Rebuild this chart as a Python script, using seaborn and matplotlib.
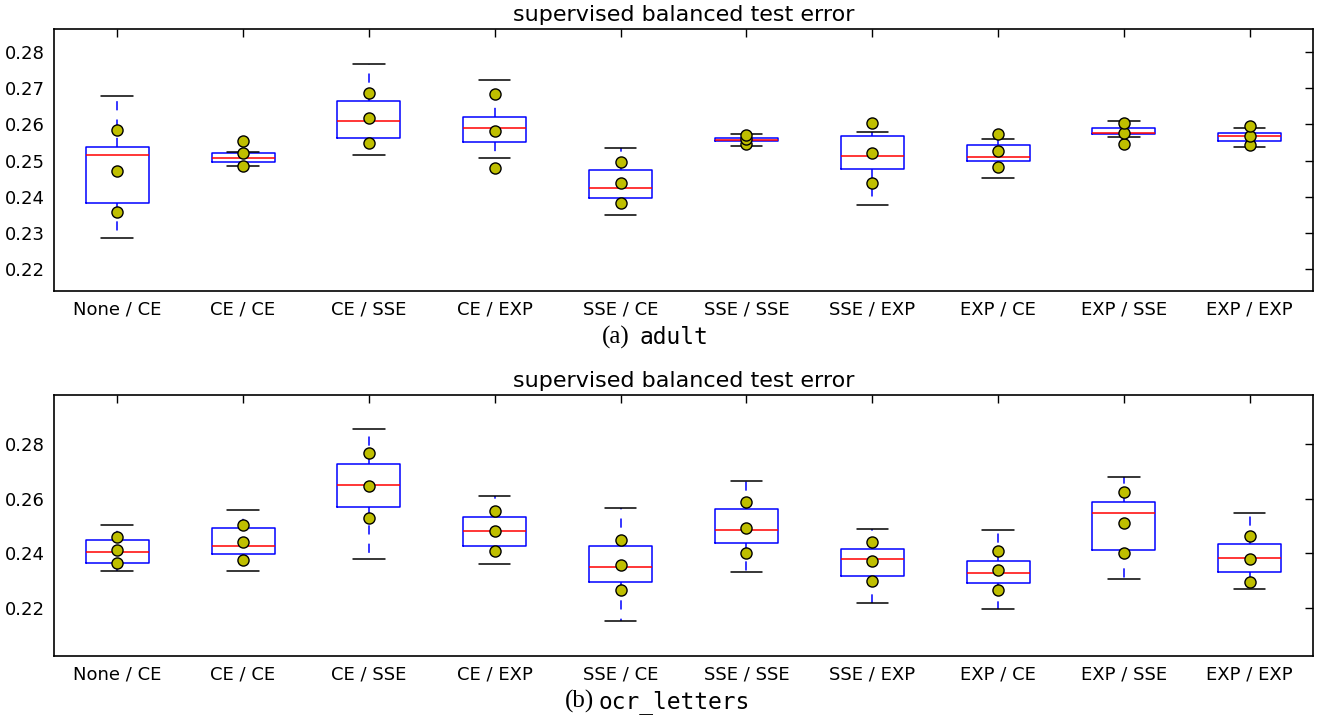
import numpy as np
import pandas as pd
import seaborn as sns
import matplotlib.pyplot as plt

# ==========================================
# DATA
# ==========================================
CONFIGS = ["None / CE", "CE / CE", "CE / SSE", "CE / EXP", "SSE / CE",
           "SSE / SSE", "SSE / EXP", "EXP / CE", "EXP / SSE", "EXP / EXP"]

# adult: box summary (whisker low, q1, median, q3, whisker high)
ADULT_LOW = [0.2287, 0.2485, 0.2515, 0.2508, 0.2351, 0.2541, 0.2378, 0.2451, 0.2564, 0.2538]
ADULT_Q1 = [0.2383, 0.2496, 0.2563, 0.2551, 0.2397, 0.2553, 0.2477, 0.2498, 0.2572, 0.2554]
ADULT_MED = [0.2516, 0.2506, 0.2608, 0.2590, 0.2425, 0.2556, 0.2513, 0.2511, 0.2577, 0.2568]
ADULT_Q3 = [0.2537, 0.2522, 0.2664, 0.2621, 0.2475, 0.2563, 0.2568, 0.2542, 0.2589, 0.2577]
ADULT_HIGH = [0.2677, 0.2524, 0.2765, 0.2722, 0.2535, 0.2572, 0.2578, 0.2560, 0.2610, 0.2590]
# adult: mean and mean +/- std markers
ADULT_MEAN = [0.2470, 0.2520, 0.2618, 0.2582, 0.2439, 0.2559, 0.2520, 0.2527, 0.2576, 0.2568]
ADULT_MEAN_LO = [0.2357, 0.2485, 0.2549, 0.2480, 0.2382, 0.2547, 0.2437, 0.2481, 0.2547, 0.2542]
ADULT_MEAN_HI = [0.2584, 0.2555, 0.2686, 0.2684, 0.2496, 0.2570, 0.2603, 0.2574, 0.2604, 0.2595]

# ocr_letters
OCR_LOW = [0.2334, 0.2334, 0.2380, 0.2359, 0.2150, 0.2331, 0.2218, 0.2196, 0.2306, 0.2267]
OCR_Q1 = [0.2365, 0.2396, 0.2569, 0.2426, 0.2293, 0.2436, 0.2317, 0.2290, 0.2411, 0.2332]
OCR_MED = [0.2405, 0.2427, 0.2650, 0.2481, 0.2349, 0.2485, 0.2380, 0.2326, 0.2548, 0.2382]
OCR_Q3 = [0.2447, 0.2493, 0.2728, 0.2534, 0.2425, 0.2563, 0.2416, 0.2372, 0.2587, 0.2435]
OCR_HIGH = [0.2503, 0.2557, 0.2856, 0.2608, 0.2565, 0.2663, 0.2490, 0.2485, 0.2681, 0.2548]
OCR_MEAN = [0.2411, 0.2441, 0.2647, 0.2481, 0.2358, 0.2493, 0.2370, 0.2337, 0.2512, 0.2380]
OCR_MEAN_LO = [0.2363, 0.2376, 0.2530, 0.2407, 0.2266, 0.2399, 0.2299, 0.2266, 0.2402, 0.2295]
OCR_MEAN_HI = [0.2461, 0.2505, 0.2766, 0.2554, 0.2449, 0.2587, 0.2440, 0.2407, 0.2623, 0.2463]

TITLE = "supervised balanced test error"
OUTPUT_IMAGE = "out.png"


def to_long(cols):
    """Stack per-config columns into a long frame (config, value)."""
    rows = []
    for col in cols:
        for cfg, v in zip(CONFIGS, col):
            rows.append({"config": cfg, "value": v})
    return pd.DataFrame(rows)


def draw_panel(ax, box_df, dot_df, ylim, yticks):
    sns.boxplot(
        data=box_df, x="config", y="value", order=CONFIGS, ax=ax,
        whis=(0, 100), width=0.5, fill=False, linewidth=1.1,
        boxprops=dict(color="blue"),
        medianprops=dict(color="red"),
        whiskerprops=dict(color="blue", linestyle=(0, (6, 6))),
        capprops=dict(color="black"),
    )
    sns.stripplot(
        data=dot_df, x="config", y="value", order=CONFIGS, ax=ax,
        jitter=False, color=(0.75, 0.75, 0.0), edgecolor="black",
        linewidth=1.0, size=8, zorder=4,
    )
    ax.set_xlim(-0.5, len(CONFIGS) - 0.5)
    ax.set_ylim(*ylim)
    ax.set_yticks(yticks)
    ax.set_yticklabels([f"{t:.2f}" for t in yticks])
    ax.set_xlabel("")
    ax.set_ylabel("")
    ax.set_title(TITLE, fontsize=16, pad=6, color="black")
    ax.tick_params(direction="in", top=True, right=True, length=6,
                   width=1, colors="black", labelsize=13, pad=7)
    for sp in ax.spines.values():
        sp.set_color("black")
        sp.set_linewidth(1.2)


sns.set_style("white")
plt.rcParams["font.family"] = ["DejaVu Sans"]
plt.rcParams["text.color"] = "black"

fig = plt.figure(figsize=(13.21, 7.19), dpi=100)
ax_a = fig.add_axes([0.0411, 0.5957, 0.9526, 0.3635])
ax_b = fig.add_axes([0.0411, 0.0876, 0.9526, 0.3630])

adult_box = to_long([ADULT_LOW, ADULT_Q1, ADULT_MED, ADULT_Q3, ADULT_HIGH])
adult_dots = to_long([ADULT_MEAN_LO, ADULT_MEAN, ADULT_MEAN_HI])
ocr_box = to_long([OCR_LOW, OCR_Q1, OCR_MED, OCR_Q3, OCR_HIGH])
ocr_dots = to_long([OCR_MEAN_LO, OCR_MEAN, OCR_MEAN_HI])

draw_panel(ax_a, adult_box, adult_dots, (0.2141, 0.2862),
           [0.22, 0.23, 0.24, 0.25, 0.26, 0.27, 0.28])
draw_panel(ax_b, ocr_box, ocr_dots, (0.2023, 0.2980),
           [0.22, 0.24, 0.26, 0.28])

# sub-captions: serif "(a)" + monospace dataset name
fig.text(0.4768, 0.531, "(a)", ha="right", va="center",
         family="Liberation Serif", fontsize=18, color="black")
fig.text(0.4838, 0.531, "adult", ha="left", va="center",
         family="DejaVu Sans Mono", fontsize=16.5, color="black")
fig.text(0.4495, 0.024, "(b)", ha="right", va="center",
         family="Liberation Serif", fontsize=18, color="black")
fig.text(0.4528, 0.024, "ocr_letters", ha="left", va="center",
         family="DejaVu Sans Mono", fontsize=16.5, color="black")

fig.savefig(OUTPUT_IMAGE, dpi=100)
